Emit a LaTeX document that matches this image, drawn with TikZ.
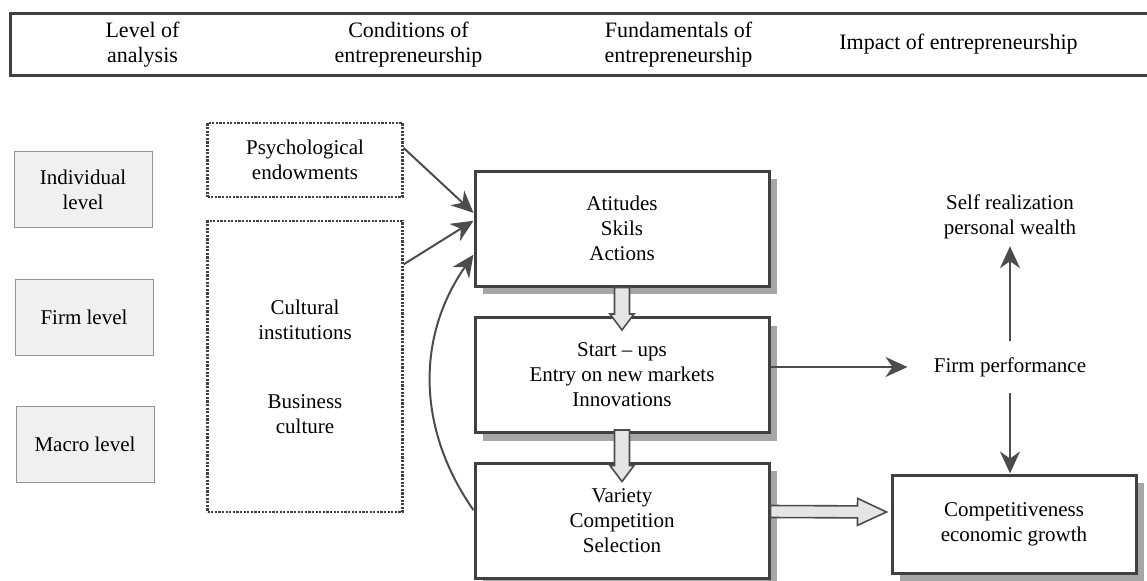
\documentclass[tikz,border=0pt]{standalone}
\usepackage{fontspec}
\setmainfont{Liberation Serif}
\usepackage{tikz}
\usetikzlibrary{calc}
\usetikzlibrary{shadows}
\usetikzlibrary{arrows.meta}
\tikzstyle{headbox} = [rectangle, 
minimum width=577.5pt, 
minimum height=31pt, 
draw=black!75, line width=1.5pt]
\tikzstyle{headtext} = [align=center, font=\fontsize{11}{12.5}\selectfont]
\tikzstyle{level} = [rectangle, 
minimum width=69pt, 
minimum height=38pt, text centered, 
align=center, 
draw=gray!85, fill=gray!12]
\tikzstyle{cond} = [rectangle, 
minimum width=97.5pt, 
align=center, 
draw=black!75, dash pattern=on 1.1pt off 0.7pt, line width=1.1pt]
\tikzstyle{fund} = [rectangle, 
minimum width=147pt, 
minimum height=57.5pt, 
align=center, 
draw=black!75, line width=1.5pt, fill=white, 
drop shadow={shadow xshift=4pt, shadow yshift=-4pt, fill=gray!70, opacity=1}]
\tikzstyle{impact} = [align=center]
\tikzstyle{arrow} = [draw=black!70, line width=1pt, -{Stealth[length=11pt, width=10pt, inset=3.5pt]}]
% hollow block arrow: shaft half width, head half width, head length
\tikzset{fat/.style n args={3}{fill=gray!20, draw=black!70, line width=0.8pt, 
  to path={($(\tikztotarget)!#3!(\tikztostart)$) coordinate (fatbase)
    ($(\tikztostart)!#1!90:(\tikztotarget)$) -- ($(fatbase)!#1!90:(\tikztotarget)$)
    -- ($(fatbase)!#2!90:(\tikztotarget)$) -- (\tikztotarget)
    -- ($(fatbase)!#2!-90:(\tikztotarget)$) -- ($(fatbase)!#1!-90:(\tikztotarget)$)
    -- ($(\tikztostart)!#1!-90:(\tikztotarget)$) -- cycle}}}

\begin{document}
\begin{tikzpicture} [x=0.5pt, y=-0.5pt, font=\fontsize{10.5}{12.5}\selectfont]
    \useasboundingbox (0,0) rectangle (1147,580);

    % the heading row
    \node (header) [headbox] at (587.5,44.5) {};
    \node (hlevel) [headtext] at ($(header.west) + (134,0)$) {Level of\\analysis};
    \node (hcond) [headtext] at ($(header.west) + (400,0)$) {Conditions of\\entrepreneurship};
    \node (hfund) [headtext] at ($(header.west) + (670,0)$) {Fundamentals of\\entrepreneurship};
    \node (himpact) [headtext] at ($(header.west) + (950,0)$) {Impact of entrepreneurship};

    % the levels
    \node (Ind) [level] at (83,189.5) {Individual\\level};
    \node (Firm) [level] at ($(Ind) + (1,128)$) {Firm level};
    \node (Macro) [level] at ($(Ind) + (2,255)$) {Macro level};

    % the conditions
    \node (Psych) [cond, minimum height=37pt] at (305,160) {Psychological\\endowments};
    \node (Cult) [cond, minimum height=145.5pt] at ($(Psych) + (0,206.5)$) {Cultural\\institutions\\[22pt]Business\\culture};

    % the fundamentals
    \node (Attitudes) [fund] at (622,228.5) {Atitudes\\Skils\\Actions};
    \node (Startups) [fund] at ($(Attitudes) + (0,146.5)$) {Start -- ups\\Entry on new markets\\Innovations};
    \node (Variety) [fund] at ($(Attitudes) + (0,292)$) {Variety\\Competition\\Selection};

    % the impact
    \node (FirmPerf) [impact, inner xsep=13pt, inner ysep=8pt] at (1010,367) {Firm performance};
    \node (SelfReal) [impact] at ($(FirmPerf) + (0,-150)$) {Self realization\\personal wealth};
    \node (Compet) [fund, minimum width=122pt, minimum height=49pt] at ($(FirmPerf) + (4,157)$) {Competitiveness\\economic growth};

    % the connectors
    \draw [arrow] (Psych.7) -- (Attitudes.174);
    \draw [arrow] (Cult.46) -- (Attitudes.177);
    \draw [arrow] (Variety.176) to [out=125, in=235] (Attitudes.190);

    \draw [fat={3.75pt}{6pt}{8pt}] (Attitudes.south) to ([yshift=-7pt]Startups.north);
    \draw [fat={3.75pt}{6pt}{8pt}] ([yshift=2pt]Startups.south) to ([yshift=-10pt]Variety.north);

    \draw [arrow] (Startups.east |- FirmPerf.west) -- (FirmPerf.west);
    \draw [arrow] (FirmPerf.north) -- (SelfReal.south);
    \draw [arrow] (FirmPerf.south) -- (FirmPerf.south |- Compet.north);

    \draw [fat={3pt}{6.75pt}{14.5pt}] ([yshift=4.5pt]Variety.east) to ([xshift=-2pt, yshift=6pt]Compet.west);

\end{tikzpicture}
\end{document}
